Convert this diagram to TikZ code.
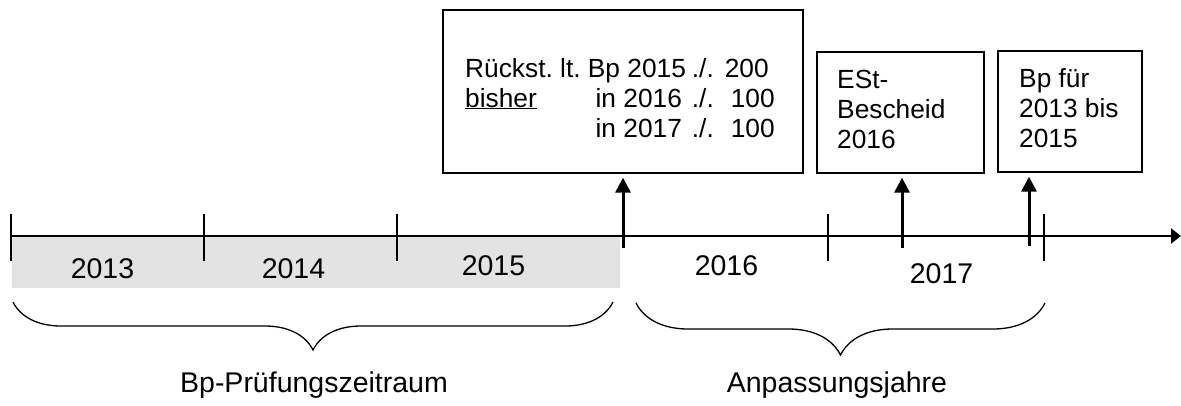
\documentclass[tikz,border=0pt]{standalone}
\usepackage{fontspec}
\setmainfont{Liberation Sans}
\usetikzlibrary{arrows.meta,decorations.pathreplacing}
\definecolor{periodgray}{RGB}{227,227,227}
\frenchspacing
\begin{document}
\begin{tikzpicture}[x=1pt,y=-1pt,
  boxstyle/.style={draw, line width=1.3pt, inner sep=0pt},
  lbl/.style={font=\fontsize{28.5}{34}\selectfont, inner sep=0pt, anchor=base},
  boxtext/.style={font=\fontsize{26.3}{30}\selectfont, inner sep=0pt, anchor=base west},
  tickline/.style={line width=1.2pt},
  axisline/.style={line width=2pt, -{Triangle[length=10pt,width=15pt]}},
  uparrow/.style={line width=3pt, -{Triangle[length=15pt,width=15pt]}, shorten >=4pt},
  bracestyle/.style={line width=1.3pt, decorate, decoration={brace, amplitude=#1}},
]
\useasboundingbox (0,0) rectangle (1181,405);

% shaded audit period
\fill[periodgray] (12,237) rectangle (620,288);

% time axis
\coordinate (axstart) at (10,236);
\coordinate (axend) at (1181,236);
\draw[axisline] (axstart) -- (axend);

% ticks
\foreach \x/\n in {11/k0,204/k1,397/k2,828/k3,1044/k4}{
  \coordinate (\n a) at (\x,214);
  \coordinate (\n b) at (\x,261);
  \draw[tickline] (\n a) -- (\n b);
}

% year labels
\node[lbl] (y13) at (102.5,278) {2013};
\node[lbl] (y14) at (293.5,278) {2014};
\node[lbl] (y15) at (493.5,275) {2015};
\node[lbl] (y16) at (726.5,275) {2016};
\node[lbl] (y17) at (941.5,283) {2017};

% boxes
\node[boxstyle, minimum width=360pt, minimum height=163pt] (b1) at (623,91.5) {};
\node[boxstyle, minimum width=167pt, minimum height=121pt] (b2) at (900.5,112.5) {};
\node[boxstyle, minimum width=144pt, minimum height=121pt] (b3) at (1070,111.5) {};

\node[boxtext] (t1) at (465,77) {\begin{tabular}[t]{@{}l@{}r@{\hspace{10pt}}l@{\hspace{11pt}}l@{}}
\multicolumn{2}{@{}l}{Rückst. lt. Bp 2015} & ./. & 200\\
\underline{bisher} & in 2016 & ./. & \hspace{6pt}100\\
 & in 2017 & ./. & \hspace{6pt}100
\end{tabular}};
\node[boxtext] (t2) at (837,88) {\begin{tabular}[t]{@{}l@{}}ESt-\\Bescheid\\2016\end{tabular}};
\node[boxtext] (t3) at (1019,87) {\begin{tabular}[t]{@{}l@{}}Bp für\\2013 bis\\2015\end{tabular}};

% event arrows
\coordinate (e1) at (623,248);
\coordinate (e2) at (902,248);
\coordinate (e3) at (1029,246);
\draw[uparrow] (e1) -- (e1 |- b1.south);
\draw[uparrow] (e2) -- (e2 |- b2.south);
\draw[uparrow] (e3) -- (e3 |- b3.south);

% braces
\coordinate (br1a) at (613,302);
\coordinate (br1b) at (13,302);
\coordinate (br2a) at (1045,303);
\coordinate (br2b) at (636,303);
\draw[bracestyle=48] (br1a) -- (br1b);
\draw[bracestyle=52] (br2a) -- (br2b);

\node[lbl] (l1) at (314,392) {Bp-Prüfungszeitraum};
\node[lbl] (l2) at (837,392) {Anpassungsjahre};
\end{tikzpicture}
\end{document}
